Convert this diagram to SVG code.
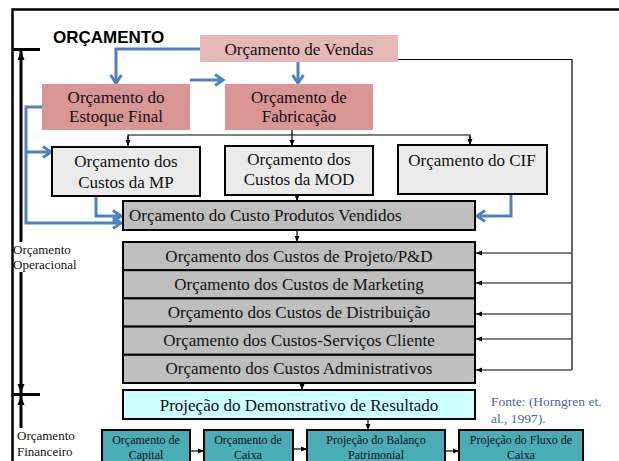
<svg xmlns="http://www.w3.org/2000/svg" width="619" height="461" viewBox="0 0 619 461">
<defs>
<marker id="bh" markerUnits="userSpaceOnUse" markerWidth="14" markerHeight="14" viewBox="0 0 14 14" refX="11" refY="7" orient="auto">
<path d="M3,1.5 L11,7 L3,12.5" fill="none" stroke="#4f81bd" stroke-width="3"/>
</marker>
<marker id="sa" markerUnits="userSpaceOnUse" markerWidth="6" markerHeight="6" viewBox="0 0 6 6" refX="6" refY="3" orient="auto">
<path d="M0,0.5 L6,3 L0,5.5 z" fill="#000"/>
</marker>
<marker id="ta" markerUnits="userSpaceOnUse" markerWidth="10" markerHeight="10" viewBox="0 0 10 10" refX="9" refY="5" orient="auto">
<path d="M0,1.5 L9,5 L0,8.5 z" fill="#000"/>
</marker>
</defs>
<style>
.t{font-family:"Liberation Serif","Times New Roman",serif;fill:#111;text-anchor:middle}
.t17{font-size:17px}
.t11{font-size:12px}
.lab{font-family:"Liberation Serif","Times New Roman",serif;font-size:13px;fill:#111}
.bb{stroke:#000;stroke-width:2}
.blue{fill:none;stroke:#4f81bd;stroke-width:3;marker-end:url(#bh)}
.thin{fill:none;stroke:#000;stroke-width:1.2}
.thinA{fill:none;stroke:#000;stroke-width:1.2;marker-end:url(#sa)}
.grayl{fill:none;stroke:#555;stroke-width:1.5;marker-end:url(#sa)}
</style>
<rect width="619" height="461" fill="#fff"/>

<!-- frame -->
<path d="M12.5,461 V9.5 H619" fill="none" stroke="#000" stroke-width="2.5"/>
<text x="53" y="43" font-family="'Liberation Sans',Arial,sans-serif" font-weight="bold" font-size="17" fill="#000">ORÇAMENTO</text>

<!-- left scale -->
<g id="scale">
<line x1="12" y1="49.5" x2="40" y2="49.5" stroke="#000" stroke-width="3"/>
<line x1="12" y1="394.5" x2="40" y2="394.5" stroke="#000" stroke-width="3"/>
<line x1="21" y1="242" x2="21" y2="51" stroke="#000" stroke-width="3" marker-end="url(#ta)"/>
<line x1="21" y1="272" x2="21" y2="393" stroke="#000" stroke-width="3" marker-end="url(#ta)"/>
<line x1="21" y1="428" x2="21" y2="396" stroke="#000" stroke-width="3" marker-end="url(#ta)"/>
<text class="lab" x="13" y="254">Orçamento</text>
<text class="lab" x="13" y="269">Operacional</text>
<text class="lab" x="17" y="440">Orçamento</text>
<text class="lab" x="17" y="456">Financeiro</text>
</g>

<!-- connectors -->
<g id="connectors">
<polyline class="blue" points="200,49 116,49 116,83"/>
<polyline class="blue" points="298,62 298,83"/>
<polyline class="blue" points="190,80 223,80"/>
<polyline class="blue" points="42,107 26,107 26,223 121,223"/>
<polyline class="blue" points="26,152 51,152"/>
<polyline class="blue" points="96,197 96,216 121,216"/>
<polyline class="blue" points="511,194 511,216 477,216"/>

<polyline class="thin" points="128,145 128,135 470,135 470,145"/>
<path class="thinA" d="M128,136 V146"/>
<path class="thinA" d="M470,136 V145"/>
<path class="thinA" d="M292,130 V146"/>
<path class="thinA" d="M297,195 V201"/>
<path class="thinA" d="M297,230 V242"/>
<path class="thinA" d="M302,383 V390"/>
<path class="thinA" d="M368,419 V430"/>
<path class="thinA" d="M190,451 H204"/>
<path class="thinA" d="M293,449 H307"/>
<path class="thinA" d="M445,451 H459"/>

<polyline class="thin" points="398,59.5 572,59.5 572,370"/>
<path class="grayl" d="M572,253 H476"/>
<path class="grayl" d="M572,283 H476"/>
<path class="grayl" d="M572,314 H476"/>
<path class="grayl" d="M572,339 H476"/>
<path class="grayl" d="M572,370 H476"/>
</g>

<g id="vendas">
<rect x="200" y="35" width="198" height="27" fill="#e6b9b8"/>
<text class="t t17" x="299" y="55">Orçamento de Vendas</text>
</g>
<g id="estoque">
<rect x="42" y="84" width="148" height="46" fill="#d99694"/>
<text class="t t17" x="116" y="103">Orçamento do</text>
<text class="t t17" x="116" y="122">Estoque Final</text>
</g>
<g id="fabricacao">
<rect x="225" y="84" width="148" height="46" fill="#d99694"/>
<text class="t t17" x="299" y="103">Orçamento de</text>
<text class="t t17" x="299" y="122">Fabricação</text>
</g>

<g id="mp">
<rect x="52" y="147" width="148" height="49" fill="#ebebeb" class="bb"/>
<text class="t t17" x="126" y="167">Orçamento dos</text>
<text class="t t17" x="126" y="188">Custos da MP</text>
</g>
<g id="mod">
<rect x="225" y="146" width="148" height="49" fill="#ebebeb" class="bb"/>
<text class="t t17" x="299" y="165">Orçamento dos</text>
<text class="t t17" x="299" y="185">Custos da MOD</text>
</g>
<g id="cif">
<rect x="398" y="145" width="149" height="49" fill="#ebebeb" class="bb"/>
<text class="t t17" x="472" y="166">Orçamento do CIF</text>
</g>

<g id="cpv">
<rect x="123" y="201" width="352" height="29" fill="#bfbfbf" class="bb"/>
<text class="t t17" x="129" y="221" style="text-anchor:start">Orçamento do Custo Produtos Vendidos</text>
</g>

<g id="projeto">
<rect x="123" y="242" width="352" height="28.2" fill="#bfbfbf" class="bb"/>
<text class="t t17" x="299" y="262">Orçamento dos Custos de Projeto/P&amp;D</text>
</g>
<g id="marketing">
<rect x="123" y="270.2" width="352" height="28.2" fill="#bfbfbf" class="bb"/>
<text class="t t17" x="299" y="290">Orçamento dos Custos de Marketing</text>
</g>
<g id="distribuicao">
<rect x="123" y="298.4" width="352" height="28.2" fill="#bfbfbf" class="bb"/>
<text class="t t17" x="299" y="318">Orçamento dos Custos de Distribuição</text>
</g>
<g id="servicos">
<rect x="123" y="326.6" width="352" height="28.2" fill="#bfbfbf" class="bb"/>
<text class="t t17" x="299" y="346">Orçamento dos Custos-Serviços Cliente</text>
</g>
<g id="administrativos">
<rect x="123" y="354.8" width="352" height="28.2" fill="#bfbfbf" class="bb"/>
<text class="t t17" x="299" y="374">Orçamento dos Custos Administrativos</text>
</g>

<g id="resultado">
<rect x="123" y="390" width="352" height="29" fill="#ccffff" class="bb"/>
<text class="t t17" x="299" y="411">Projeção do Demonstrativo de Resultado</text>
</g>

<g id="fonte">
<text x="491" y="406" font-family="'Liberation Serif','Times New Roman',serif" font-size="13.5" fill="#4a6a9a">Fonte: (Horngren et.</text>
<text x="491" y="423" font-family="'Liberation Serif','Times New Roman',serif" font-size="13.5" fill="#4a6a9a">al., 1997).</text>
</g>

<g id="capital">
<rect x="102" y="430" width="88" height="40" fill="#4bacb6" class="bb"/>
<text class="t t11" x="146" y="444">Orçamento de</text>
<text class="t t11" x="146" y="459">Capital</text>
</g>
<g id="caixa">
<rect x="204" y="430" width="89" height="40" fill="#4bacb6" class="bb"/>
<text class="t t11" x="248" y="444">Orçamento de</text>
<text class="t t11" x="248" y="459">Caixa</text>
</g>
<g id="balanco">
<rect x="307" y="430" width="138" height="40" fill="#4bacb6" class="bb"/>
<text class="t t11" x="376" y="444">Projeção do Balanço</text>
<text class="t t11" x="376" y="459">Patrimonial</text>
</g>
<g id="fluxo">
<rect x="459" y="430" width="124" height="40" fill="#4bacb6" class="bb"/>
<text class="t t11" x="521" y="444">Projeção do Fluxo de</text>
<text class="t t11" x="521" y="459">Caixa</text>
</g>
</svg>
